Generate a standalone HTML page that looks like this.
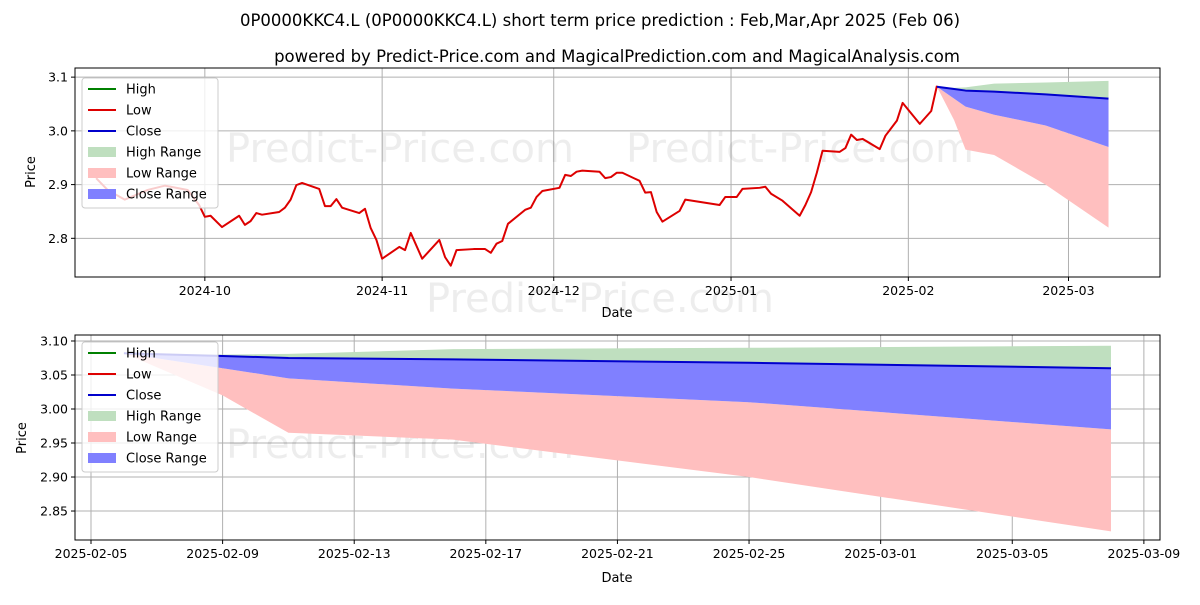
<!DOCTYPE html>
<html><head><meta charset="utf-8"><style>
body{margin:0;background:#fff;font-family:"Liberation Sans","DejaVu Sans",sans-serif}
svg text{font-family:"DejaVu Sans","Liberation Sans",sans-serif}
</style></head><body>
<svg id="c" width="1200" height="600" xmlns="http://www.w3.org/2000/svg"></svg>
<script>
// historical: day offset from 2024-10-01, value
const histDays=[-19,-17,-14,-10,-7,-3,-1,0,1,3,6,7,8,9,10,13,14,15,16,17,20,21,22,23,24,27,28,29,30,31,34,35,36,38,41,42,43,44,47,49,50,51,52,53,56,57,58,59,62,63,64,65,66,69,70,71,72,73,76,77,78,79,80,83,84,90,91,93,94,97,98,99,101,104,105,106,107,108,111,112,113,114,115,118,119,121,122,125,127,128];
const histVals=[2.912,2.890,2.872,2.890,2.898,2.890,2.862,2.840,2.842,2.821,2.842,2.825,2.832,2.847,2.844,2.849,2.857,2.872,2.899,2.903,2.892,2.860,2.860,2.873,2.857,2.847,2.855,2.819,2.797,2.762,2.784,2.778,2.810,2.762,2.797,2.765,2.749,2.778,2.780,2.780,2.773,2.790,2.795,2.827,2.853,2.857,2.877,2.888,2.894,2.918,2.916,2.924,2.926,2.924,2.912,2.914,2.922,2.922,2.907,2.885,2.886,2.849,2.831,2.851,2.872,2.862,2.877,2.877,2.892,2.894,2.896,2.883,2.870,2.842,2.862,2.886,2.922,2.963,2.961,2.968,2.993,2.983,2.985,2.966,2.991,3.019,3.052,3.013,3.037,3.084];
// prediction: day offset from 2025-02-06
const predDays=[0,3,5,10,19,30];
const closeVals=[3.082,3.078,3.075,3.073,3.068,3.060];
const highVals=[3.082,3.080,3.081,3.088,3.090,3.093];
const lowVals=[3.082,3.020,2.965,2.955,2.900,2.820];
const closeLowVals=[3.082,3.060,3.045,3.030,3.010,2.970];
const topTicksY=[2.8,2.9,3.0,3.1];
const topTicksX=[[0,'2024-10'],[31,'2024-11'],[61,'2024-12'],[92,'2025-01'],[123,'2025-02'],[151,'2025-03']];
const botTicksY=[2.85,2.90,2.95,3.00,3.05,3.10];
const botTicksX=[[0,'2025-02-05'],[4,'2025-02-09'],[8,'2025-02-13'],[12,'2025-02-17'],[16,'2025-02-21'],[20,'2025-02-25'],[24,'2025-03-01'],[28,'2025-03-05'],[32,'2025-03-09']];

const svg=document.getElementById('c');
const NS='http://www.w3.org/2000/svg';
function el(t,a,txt){const e=document.createElementNS(NS,t);for(const k in a)e.setAttribute(k,a[k]);if(txt!=null)e.textContent=txt;svg.appendChild(e);return e;}

function panel(o){
  const {x0,x1,y0,y1,dmin,dmax,vmin,vmax}=o;
  const X=d=>x0+(d-dmin)/(dmax-dmin)*(x1-x0);
  const Y=v=>y1-(v-vmin)/(vmax-vmin)*(y1-y0);
  o.X=X;o.Y=Y;
  o.ticksY.forEach(v=>{const y=Y(v);
    const g=el('line',{x1:x0,x2:x1,y1:y,y2:y,stroke:'#b0b0b0','stroke-width':1});
    
    el('line',{x1:x0-4,x2:x0,y1:y,y2:y,stroke:'#000'});
    const t=el('text',{x:x0-7,y:y+4.5,'font-size':12.5,'text-anchor':'end'},o.fmtY(v));
    
  });
  o.ticksX.forEach(([d,l])=>{const x=X(d);
    const g=el('line',{x1:x,x2:x,y1:y0,y2:y1,stroke:'#b0b0b0','stroke-width':1});
    
    el('line',{x1:x,x2:x,y1:y1,y2:y1+4,stroke:'#000'});
    const t=el('text',{x:x,y:y1+18,'font-size':12.5,'text-anchor':'middle'},l);
    
  });
  return o;
}
function wm(x,y){const t=el('text',{x:x,y:y,'font-size':40,fill:'#000','fill-opacity':0.07,'text-anchor':'middle'},'Predict-Price.com');
  }
function area(p,off,up,lo,fill,name){
  let pts=predDays.map((d,i)=>p.X(off+d)+','+p.Y(up[i]));
  pts=pts.concat(predDays.map((d,i)=>[p.X(off+d),p.Y(lo[i])]).reverse().map(a=>a.join(',')));
  const e=el('polygon',{points:pts.join(' '),fill:fill});
  
}
function line(p,xs,vs,col,name){
  const e=el('polyline',{points:xs.map((d,i)=>p.X(d)+','+p.Y(vs[i])).join(' '),fill:'none',stroke:col,'stroke-width':2,'stroke-linejoin':'round'});
  
}
function legend(x,y,name){
  const g=el('rect',{x:x,y:y,width:136,height:130,fill:'#fff','fill-opacity':0.8,stroke:'#ccc',rx:3});
  
  const items=[['High','line','green'],['Low','line','#d00'],['Close','line','#00c'],['High Range','rect','#bfdfbf'],['Low Range','rect','#ffbfbf'],['Close Range','rect','#8080ff']];
  items.forEach((it,i)=>{const yy=y+11+i*21;
    if(it[1]=='line')el('line',{x1:x+6,x2:x+34,y1:yy,y2:yy,stroke:it[2],'stroke-width':2});
    else el('rect',{x:x+6,y:yy-5,width:28,height:10,fill:it[2]});
    const t=el('text',{x:x+44,y:yy+4.5,'font-size':13},it[0]);
    
  });
}

let t=el('text',{x:600,y:26,'font-size':16.5,'text-anchor':'middle'},'0P0000KKC4.L (0P0000KKC4.L) short term price prediction : Feb,Mar,Apr 2025 (Feb 06)');

t=el('text',{x:617,y:62,'font-size':16.5,'text-anchor':'middle'},'powered by Predict-Price.com and MagicalPrediction.com and MagicalAnalysis.com');


// top panel
const P1=panel({x0:75,x1:1160,y0:68,y1:277,dmin:-22.7,dmax:167,vmin:2.728,vmax:3.117,ticksY:topTicksY,ticksX:topTicksX,fmtY:v=>v.toFixed(1)});
wm(400,162);wm(800,162);wm(600,312);
area(P1,128,highVals,closeVals,'#bfdfbf','high-range-area');
area(P1,128,closeLowVals,lowVals,'#ffbfbf','low-range-area');
area(P1,128,closeVals,closeLowVals,'#8080ff','close-range-area');
line(P1,histDays,histVals,'#d00','low-line-history');
line(P1,predDays.map(d=>d+128),closeVals,'#00c','close-line');
el('rect',{x:75,y:68,width:1085,height:209,fill:'none',stroke:'#000'});
legend(82,78,'legend-top');
t=el('text',{x:617,y:317,'font-size':13,'text-anchor':'middle'},'Date');
t=el('text',{x:35,y:172,'font-size':13,'text-anchor':'middle',transform:'rotate(-90 35 172)'},'Price');

// bottom panel
const P2=panel({x0:75,x1:1160,y0:335,y1:540,dmin:-0.486,dmax:32.49,vmin:2.8074,vmax:3.1088,ticksY:botTicksY,ticksX:botTicksX,fmtY:v=>v.toFixed(2)});
wm(400,458);wm(800,458);
area(P2,1,highVals,closeVals,'#bfdfbf','high-range-area');
area(P2,1,closeLowVals,lowVals,'#ffbfbf','low-range-area');
area(P2,1,closeVals,closeLowVals,'#8080ff','close-range-area');
line(P2,predDays.map(d=>d+1),closeVals,'#00c','close-line');
el('rect',{x:75,y:335,width:1085,height:205,fill:'none',stroke:'#000'});
legend(82,342,'legend-bottom');
t=el('text',{x:617,y:582,'font-size':13,'text-anchor':'middle'},'Date');
t=el('text',{x:26,y:438,'font-size':13,'text-anchor':'middle',transform:'rotate(-90 26 438)'},'Price');
</script>
</body></html>
